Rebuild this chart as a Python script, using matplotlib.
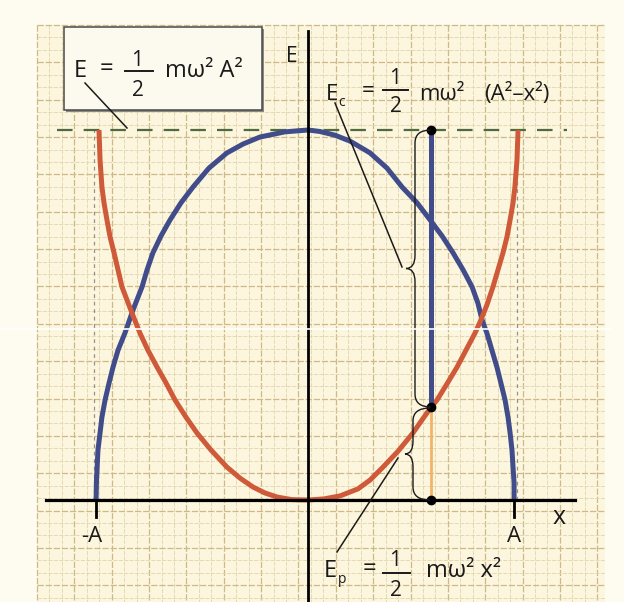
import numpy as np
import matplotlib
matplotlib.use("Agg")
import matplotlib.pyplot as plt
from matplotlib.path import Path
from matplotlib.patches import PathPatch, Rectangle

plt.rcParams['font.family'] = ['Open Sans', 'DejaVu Sans']

# Potential energy Ep(x): x in units of A, energy in units of the total energy E
ep_x = [-1.000, -0.995, -0.986, -0.976, -0.962, -0.947, -0.928, -0.909, -0.890,
        -0.842, -0.804, -0.766, -0.722, -0.679, -0.636, -0.584, -0.531, -0.464,
        -0.388, -0.325, -0.263, -0.206, -0.148, -0.077, 0.000,
        0.077, 0.153, 0.239, 0.297, 0.359, 0.431, 0.502, 0.545, 0.589, 0.617,
        0.665, 0.713, 0.756, 0.799, 0.823, 0.856, 0.885, 0.909, 0.933, 0.952,
        0.967, 0.981, 0.990, 1.000, 1.005]
ep_y = [1.000, 0.919, 0.846, 0.803, 0.757, 0.711, 0.668, 0.622, 0.576,
        0.505, 0.451, 0.405, 0.359, 0.316, 0.270, 0.224, 0.181, 0.135,
        0.089, 0.059, 0.035, 0.019, 0.008, 0.001, 0.000,
        0.003, 0.011, 0.030, 0.054, 0.089, 0.132, 0.181, 0.216, 0.251, 0.270,
        0.314, 0.359, 0.405, 0.451, 0.481, 0.527, 0.576, 0.622, 0.668, 0.711,
        0.757, 0.803, 0.846, 0.919, 1.000]

# Kinetic energy Ec(x)
ec_x = [-1.014, -1.012, -1.005, -0.995, -0.986, -0.971, -0.952, -0.933, -0.909,
        -0.876, -0.837, -0.794, -0.770, -0.742, -0.703, -0.660, -0.608, -0.550,
        -0.474, -0.388, -0.311, -0.230, -0.110, 0.000,
        0.057, 0.129, 0.201, 0.297, 0.378, 0.450, 0.522, 0.584, 0.641, 0.694,
        0.742, 0.785, 0.813, 0.833, 0.856, 0.880, 0.904, 0.923, 0.943, 0.957,
        0.967, 0.976, 0.981, 0.986, 0.986]
ec_y = [0.000, 0.054, 0.135, 0.181, 0.224, 0.270, 0.316, 0.359, 0.405,
        0.451, 0.514, 0.576, 0.622, 0.668, 0.714, 0.757, 0.803, 0.846,
        0.897, 0.938, 0.962, 0.981, 0.995, 1.000,
        0.996, 0.986, 0.970, 0.938, 0.897, 0.846, 0.803, 0.757, 0.714, 0.668,
        0.622, 0.576, 0.532, 0.486, 0.451, 0.405, 0.359, 0.316, 0.270, 0.224,
        0.181, 0.135, 0.089, 0.046, 0.000]

# Total energy and the sample position x0 with its energy split
e_total = 1.0
x0 = 0.589
ep_x0 = 0.251
amp_left, amp_right = -1.014, 0.986

# Figure layout (pixels)
W, H, DPI = 624, 602, 100
OX, OY = 308, 500        # origin position
SX, SY = 209, 370        # pixels per unit of A / of E

PAPER = '#fdf6de'
MARGIN = '#fefcf1'
GRID_MINOR = '#e2d5af'
GRID_MAJOR = '#cdb98a'
ORANGE = '#cf5a3a'
BLUE = '#414c8a'

fig = plt.figure(figsize=(W / DPI, H / DPI), dpi=DPI, facecolor=MARGIN)

# --- graph paper -------------------------------------------------------
bg = fig.add_axes([0, 0, 1, 1])
bg.set_xlim(0, W)
bg.set_ylim(H, 0)
bg.axis('off')
bg.add_patch(Rectangle((37, 25), 568, 580, facecolor=PAPER, edgecolor='none'))
step = 12.45
for i, gx in enumerate(np.arange(37, 606, step)):
    major = (i % 3 == 0)
    bg.plot([gx, gx], [25, H], color=GRID_MAJOR if major else GRID_MINOR,
            lw=0.9 if major else 0.6, ls=(0, (5, 1.5)), zorder=1)
for i, gy in enumerate(np.arange(25, H + 1, step)):
    major = (i % 3 == 0)
    bg.plot([37, 605], [gy, gy], color=GRID_MAJOR if major else GRID_MINOR,
            lw=0.9 if major else 0.6, ls=(0, (5, 1.5)), zorder=1)

# --- energy curves ----------------------------------------------------
ax = fig.add_axes([0, 0, 1, 1])
ax.patch.set_alpha(0)
ax.set_xlim((0 - OX) / SX, (W - OX) / SX)
ax.set_ylim((OY - H) / SY, OY / SY)
ax.axis('off')

# projections of the turning points
for xa in (amp_left, amp_right):
    ax.plot([xa + 0.012 * np.sign(xa), xa + 0.012 * np.sign(xa)], [0, e_total],
            color='#6a6a60', lw=0.9, ls=(0, (3, 3)), alpha=0.7, zorder=2)

# total energy level
ax.plot([(57 - OX) / SX, (567 - OX) / SX], [e_total, e_total],
        color='#4f6a3e', lw=1.6, ls=(0, (7, 5)), zorder=3)

ax.plot(ec_x, ec_y, color=BLUE, lw=3.6, solid_joinstyle='round',
        solid_capstyle='butt', zorder=4)
ax.plot(ep_x, ep_y, color=ORANGE, lw=3.6, solid_joinstyle='round',
        solid_capstyle='butt', zorder=5)

# energy split at x0
ax.plot([x0, x0], [ep_x0, e_total], color=BLUE, lw=3.6, zorder=6,
        solid_capstyle='butt')
ax.plot([x0, x0], [0, ep_x0], color='#f2b46a', lw=2.0, zorder=6)

# axes
ax.plot([(46 - OX) / SX, (575 - OX) / SX], [0, 0], color='black', lw=2.3, zorder=7)
ax.plot([0, 0], [(OY - H) / SY, (OY - 31) / SY], color='black', lw=2.0, zorder=7)
for xa in (amp_left, amp_right):
    ax.plot([xa, xa], [0, -17 / SY], color='black', lw=2.0, zorder=7)

ax.plot([x0, x0, x0], [e_total, ep_x0, 0], 'o', color='black', ms=6, zorder=8)

# --- labels and annotations ---------------------------------------------
an = fig.add_axes([0, 0, 1, 1])
an.patch.set_alpha(0)
an.set_xlim(0, W)
an.set_ylim(H, 0)
an.axis('off')

TXT = '#1a1a1a'

# boxed total-energy label
an.add_patch(Rectangle((66, 29), 198, 83, facecolor='#8a8a84', edgecolor='none', zorder=1))
an.add_patch(Rectangle((64, 27), 198, 83, facecolor='#fcf9ef', edgecolor='#4a4a48',
                       lw=1.1, zorder=2))
an.text(74, 77, 'E', fontsize=17, color=TXT, va='baseline', ha='left', zorder=3)
an.text(106, 69, '=', fontsize=17, color=TXT, va='center', ha='center', zorder=3)
an.text(137, 60, '1', fontsize=15, color=TXT, va='center', ha='center', zorder=3)
an.plot([125, 153], [71, 71], color=TXT, lw=1.4, zorder=3)
an.text(138, 90, '2', fontsize=15, color=TXT, va='center', ha='center', zorder=3)
an.text(165, 77, 'mω² A²', fontsize=17, color=TXT, va='baseline', ha='left', zorder=3)
an.plot([85, 127], [83, 128], color=TXT, lw=1.1, zorder=3)

# axis names
an.text(292, 56, 'E', fontsize=15, color=TXT, ha='center', va='center')
an.text(559, 518, 'x', fontsize=18, color=TXT, ha='center', va='center')
an.text(92, 537, '-A', fontsize=16, color=TXT, ha='center', va='center')
an.text(514, 537, 'A', fontsize=16, color=TXT, ha='center', va='center')

# kinetic energy label
an.text(326, 100, 'E', fontsize=16, color=TXT, va='baseline', ha='left')
an.text(338, 106, 'c', fontsize=10, color=TXT, va='baseline', ha='left')
an.text(368, 92, '=', fontsize=16, color=TXT, va='center', ha='center')
an.text(395, 79, '1', fontsize=15, color=TXT, va='center', ha='center')
an.plot([383, 408], [90, 90], color=TXT, lw=1.4)
an.text(396, 106, '2', fontsize=15, color=TXT, va='center', ha='center')
an.text(419, 100, 'mω²', fontsize=16, color=TXT, va='baseline', ha='left')
an.text(484, 100, '(A²–x²)', fontsize=16, color=TXT, va='baseline', ha='left')
an.plot([335, 402], [103, 267], color=TXT, lw=1.1)

# potential energy label
an.text(324, 577, 'E', fontsize=17, color=TXT, va='baseline', ha='left')
an.text(338, 583, 'p', fontsize=10, color=TXT, va='baseline', ha='left')
an.text(369, 569, '=', fontsize=17, color=TXT, va='center', ha='center')
an.text(395, 561, '1', fontsize=15, color=TXT, va='center', ha='center')
an.plot([383, 410], [573, 573], color=TXT, lw=1.4)
an.text(396, 590, '2', fontsize=15, color=TXT, va='center', ha='center')
an.text(426, 577, 'mω² x²', fontsize=17, color=TXT, va='baseline', ha='left')
an.plot([398, 337], [458, 552], color=TXT, lw=1.1)


def brace(axis, x_end, x_mid, x_tip, y_top, y_bot):
    """Curly brace opening to the right, tip pointing left."""
    y_c = 0.5 * (y_top + y_bot)
    r = 13
    verts = [(x_end, y_top), (x_mid, y_top), (x_mid, y_top + r),
             (x_mid, y_c - r), (x_mid, y_c), (x_tip, y_c),
             (x_mid, y_c), (x_mid, y_c + r),
             (x_mid, y_bot - r), (x_mid, y_bot), (x_end, y_bot)]
    codes = [Path.MOVETO, Path.CURVE3, Path.CURVE3,
             Path.LINETO, Path.CURVE3, Path.CURVE3,
             Path.CURVE3, Path.CURVE3,
             Path.LINETO, Path.CURVE3, Path.CURVE3]
    axis.add_patch(PathPatch(Path(verts, codes), facecolor='none',
                             edgecolor=TXT, lw=1.0))


brace(an, 431, 415, 406, 130, 407)
brace(an, 430, 413, 405, 408, 500)

# scanner streak
an.plot([0, 610], [329, 329], color='white', lw=1.2, zorder=10)

fig.savefig('out.png', dpi=DPI, facecolor=MARGIN)
